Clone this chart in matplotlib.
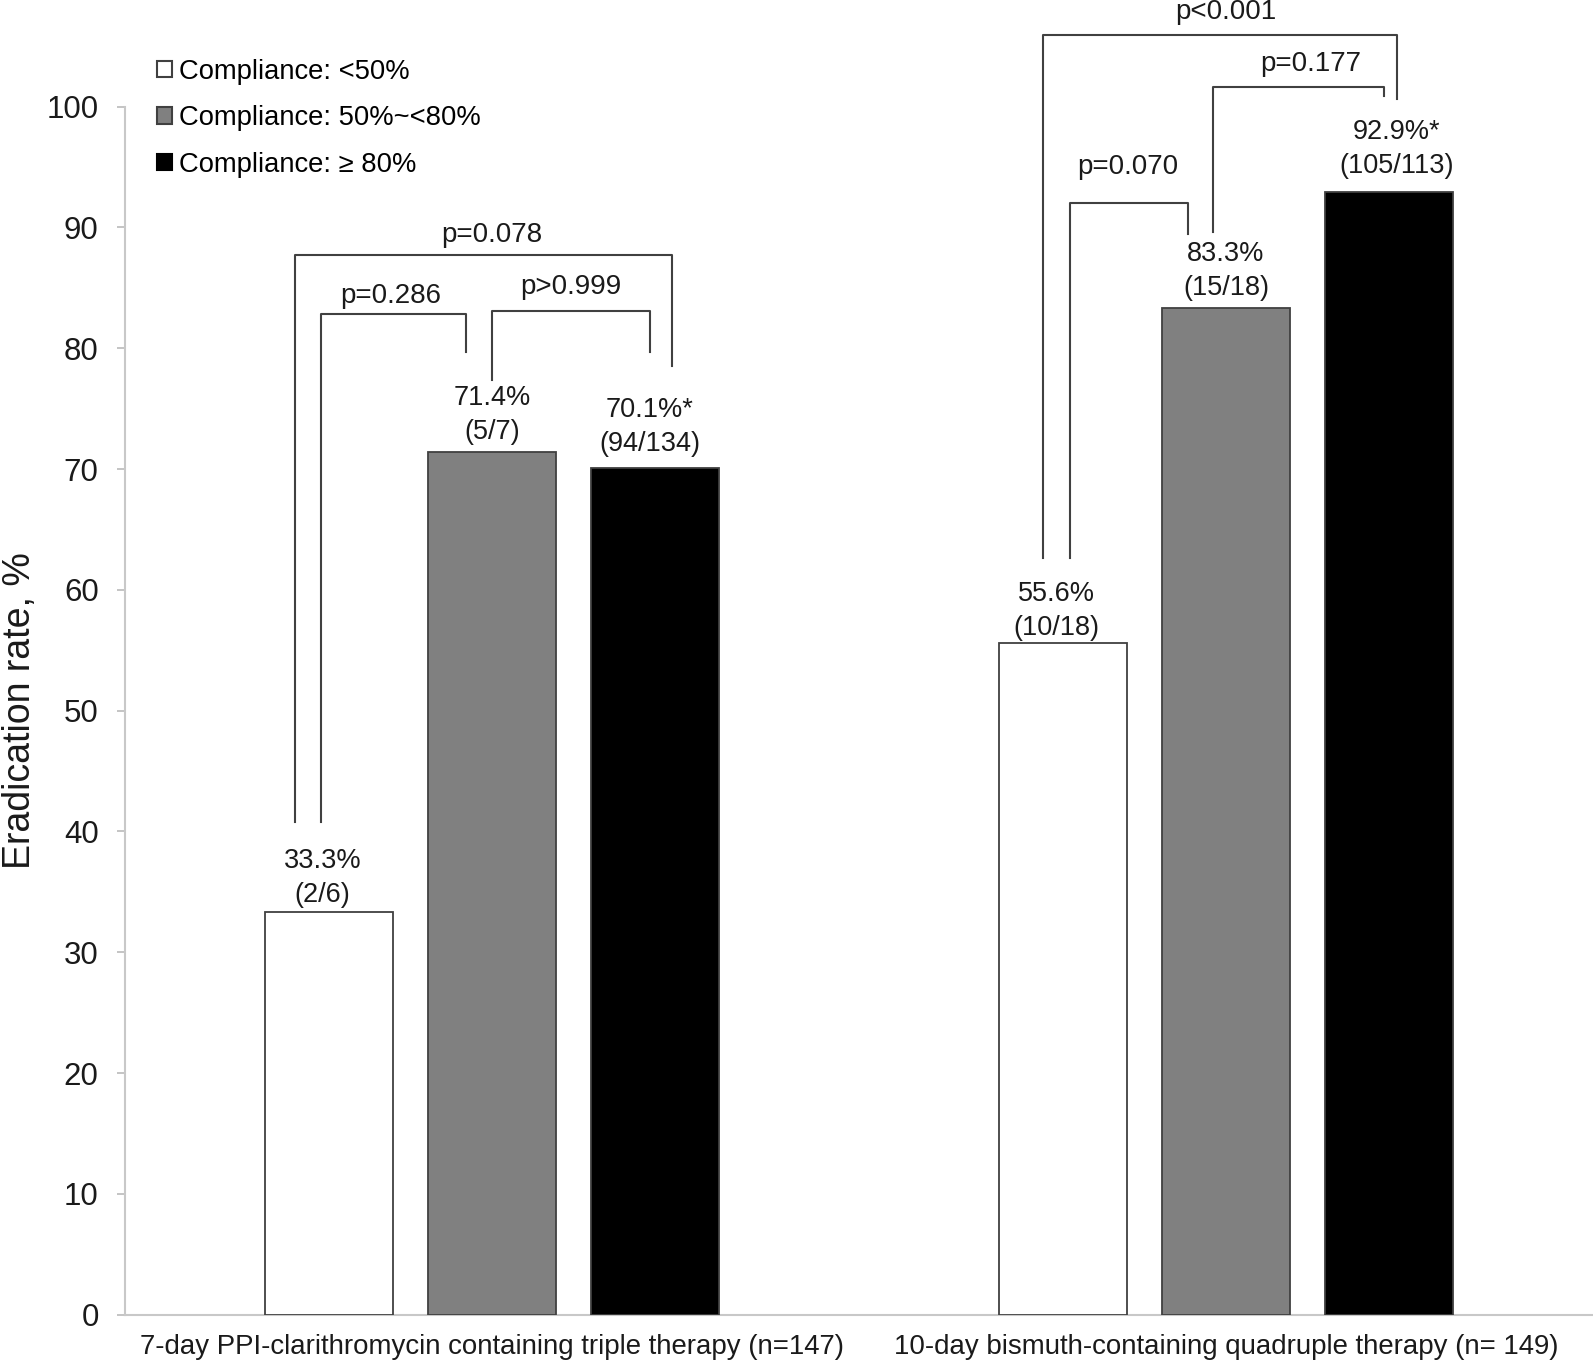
import matplotlib
matplotlib.use("Agg")
import numpy as np
import matplotlib.pyplot as plt
from matplotlib.patches import Patch

plt.rcParams['font.family'] = ['Liberation Sans', 'DejaVu Sans']

groups = ['7-day PPI-clarithromycin containing triple therapy (n=147)',
          '10-day bismuth-containing quadruple therapy (n= 149)']
series = ['Compliance: <50%', 'Compliance: 50%~<80%', 'Compliance: \u2265 80%']
rates = [[33.3, 71.4, 70.1],
         [55.6, 83.3, 92.9]]
counts = [['(2/6)', '(5/7)', '(94/134)'],
          ['(10/18)', '(15/18)', '(105/113)']]
stars = [['', '', '*'],
         ['', '', '*']]

# p-value brackets: group, left bar, right bar, top, left end, right end, label
p_labels = ['p=0.286', 'p>0.999', 'p=0.078', 'p=0.070', 'p=0.177', 'p<0.001']
br_group = [0, 0, 0, 1, 1, 1]
br_left = [0, 1, 0, 0, 1, 0]
br_right = [1, 2, 2, 1, 2, 2]
br_top = [82.8, 83.1, 87.7, 92.0, 101.6, 105.9]
br_lbot = [40.8, 77.4, 40.8, 62.6, 89.6, 62.6]
br_rbot = [79.7, 79.7, 78.5, 89.5, 100.9, 100.6]

# layout of brackets (offsets from bar centres, text positions)
br_dxl = [-0.011, 0.0, -0.047, 0.009, -0.018, -0.028]
br_dxr = [-0.036, -0.007, 0.024, -0.052, -0.006, 0.011]
txt_x = [-0.138, 0.108, 0.0, 0.866, 1.116, 1.0]
txt_dy = [1.5, 2.0, 1.7, 3.0, 1.9, 1.9]

# bar label nudges in points
lab_dx = [[-5, 0, -3.6], [-5, 0, 5.8]]
lab_dy = [[3, 5.2, 8.1], [1.5, 5.2, 9.6]]

fills = ['white', '#808080', 'black']
edge = '#404040'
pitch = 0.2216
width = 0.1745

fig = plt.figure(figsize=(15.93, 13.64), dpi=100)
ax = fig.add_axes([0.0785, 0.0362, 0.9215, 0.8856])

x = np.arange(len(groups))
for j in range(len(series)):
    vals = [rates[g][j] for g in range(len(groups))]
    bars = ax.bar(x + (j - 1) * pitch, vals, width, color=fills[j],
                  edgecolor=edge, linewidth=1.3, zorder=3)
    for g, b in enumerate(bars):
        ax.annotate('%.1f%%%s\n%s' % (rates[g][j], stars[g][j], counts[g][j]),
                    (b.get_x() + b.get_width() / 2, b.get_height()),
                    xytext=(lab_dx[g][j], lab_dy[g][j]), textcoords='offset points',
                    ha='center', va='bottom', fontsize=19.5,
                    linespacing=1.4, color='#1a1a1a')

for i in range(len(p_labels)):
    g = br_group[i]
    xl = g + (br_left[i] - 1) * pitch + br_dxl[i]
    xr = g + (br_right[i] - 1) * pitch + br_dxr[i]
    ax.plot([xl, xl, xr, xr], [br_lbot[i], br_top[i], br_top[i], br_rbot[i]],
            color=edge, lw=1.5, clip_on=False, zorder=4)
    ax.text(txt_x[i], br_top[i] + txt_dy[i], p_labels[i], ha='center',
            va='center', fontsize=20, color='#1a1a1a')

ax.set_xlim(-0.5, 1.5)
ax.set_ylim(0, 100)
ax.set_yticks(np.arange(0, 101, 10))
ax.set_xticks(x)
ax.set_xticklabels(groups, fontsize=19.9, color='#1a1a1a')
ax.tick_params(axis='y', labelsize=22.5, colors='#bfbfbf', labelcolor='#1a1a1a',
               length=6, width=1.3, pad=13)
ax.tick_params(axis='x', length=0, pad=14)
for s in ['top', 'right']:
    ax.spines[s].set_visible(False)
for s in ['left', 'bottom']:
    ax.spines[s].set_color('#c8c8c8')
    ax.spines[s].set_linewidth(1.5)
ax.set_ylabel('Eradication rate, %', fontsize=27, color='#1a1a1a')
ax.yaxis.set_label_coords(-0.059, 0.5)

handles = [Patch(facecolor=fills[j], edgecolor=edge if j < 2 else 'black',
                 linewidth=1.5) for j in range(len(series))]
fig.legend(handles, series, loc='upper left', bbox_to_anchor=(0.0985, 0.957),
           frameon=False, fontsize=19.7, handlelength=0.55, handleheight=0.55,
           handletextpad=0.25, labelspacing=0.75, borderpad=0, borderaxespad=0)

fig.savefig('out.png', dpi=100)
